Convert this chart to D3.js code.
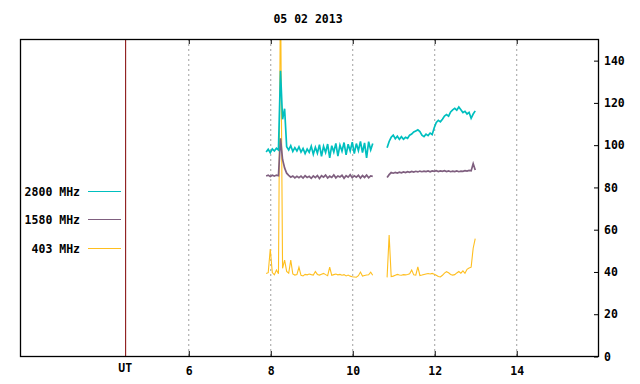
<!DOCTYPE html>
<html>
<head>
<meta charset="utf-8">
<script src="https://cdn.jsdelivr.net/npm/d3@7"></script>
<style>
	body { margin: 0; background: #fff; }
	svg text { font-family: "DejaVu Sans Mono", "Liberation Mono", monospace; font-weight: bold; font-size: 11.5px; fill: #000; }
</style>
</head>
<body>
<svg id="chart" width="640" height="384"></svg>
<script>
// chart title and legend
const title = "05 02 2013";
const seriesNames = ["2800 MHz", "1580 MHz", "403 MHz"];
const seriesColors = ["#00bfbf", "#7f5f7f", "#ffbf1f"];

// axis ticks
const xTicks = [6, 8, 10, 12, 14];
const yTicks = [0, 20, 40, 60, 80, 100, 120, 140];
const utMark = 4.46;

// sample times (UT hours), two observing segments
const timesA = [7.90, 7.95, 8.00, 8.05, 8.10, 8.15, 8.20, 8.25, 8.30, 8.35, 8.40, 8.45, 8.50, 8.55, 8.60, 8.65, 8.70, 8.75, 8.80, 8.85, 8.90, 8.95, 9.00, 9.05, 9.10, 9.15, 9.20, 9.25, 9.30, 9.35, 9.40, 9.45, 9.50, 9.55, 9.60, 9.65, 9.70, 9.75, 9.80, 9.85, 9.90, 9.95, 10.00, 10.05, 10.10, 10.15, 10.20, 10.25, 10.30, 10.35, 10.40, 10.45, 10.50];
const timesB = [10.85, 10.90, 10.95, 11.00, 11.05, 11.10, 11.15, 11.20, 11.25, 11.30, 11.35, 11.40, 11.45, 11.50, 11.55, 11.60, 11.65, 11.70, 11.75, 11.80, 11.85, 11.90, 11.95, 12.00, 12.05, 12.10, 12.15, 12.20, 12.25, 12.30, 12.35, 12.40, 12.45, 12.50, 12.55, 12.60, 12.65, 12.70, 12.75, 12.80, 12.85, 12.90, 12.95, 13.00];

// 2800 MHz
const flux2800A = [96.5, 97.8, 96.2, 98.0, 97.0, 98.3, 97.5, 135, 112, 117, 99, 97.5, 99.5, 96.8, 98.6, 97, 99, 96.5, 98.2, 95.8, 97.9, 96.4, 99.3, 95.5, 98.8, 96, 100, 94.5, 99.2, 96.3, 100.3, 93.8, 99.5, 96.5, 100.6, 94.6, 99.8, 96.9, 101, 95.2, 100.2, 97, 101.2, 95.8, 100.5, 97.2, 101.5, 96.2, 100.8, 93.8, 101.4, 97.5, 100.5];
const flux2800B = [98.5, 101.5, 103.5, 104.5, 102.8, 104, 102.5, 103.8, 102.6, 103.5, 103, 104.5, 105, 106, 106.5, 107, 106.2, 104.5, 103.8, 105, 104.3, 105.5, 104.8, 108, 110.5, 111.5, 110.8, 112, 113.5, 114.2, 113.5, 115.5, 116.5, 117.2, 116.3, 117.8, 116.5, 115.2, 115.8, 114.5, 115.3, 112.5, 114.5, 116];

// 1580 MHz
const flux1580A = [85.2, 85.6, 84.9, 85.5, 85.1, 85.6, 85.3, 103, 93, 89, 86.5, 85.5, 84.6, 85.2, 84.3, 85, 84.4, 85.1, 84.2, 85.3, 84.5, 85, 84.1, 85.2, 84.4, 85.4, 84, 85.3, 84.6, 85.6, 84.2, 85.1, 84.5, 85.7, 84.3, 85.2, 84.7, 85.5, 84.1, 85.3, 84.6, 85.8, 84.4, 85.3, 84.6, 85.5, 84.2, 85.4, 84.5, 85.6, 84.3, 85.2, 85];
const flux1580B = [84.5, 85.8, 86.8, 86.5, 86.9, 86.6, 87, 86.7, 87.1, 86.8, 87.2, 86.9, 87.3, 87, 87.4, 87.1, 87.5, 87.2, 87.5, 87.3, 87.6, 87.2, 87.6, 87.4, 87.7, 87.3, 87.6, 87.4, 87.7, 87.3, 87.6, 87.2, 87.5, 87.3, 87.6, 87.2, 87.5, 87.4, 87.7, 87.5, 87.8, 87.6, 91, 88];

// 403 MHz
const flux403A = [39.0, 39.4, 50.6, 39.5, 38.4, 40.7, 38.9, 175, 41.5, 45.4, 40, 39.2, 45.4, 38.8, 38.3, 38.5, 42, 38.2, 37.9, 38.6, 38.4, 38.8, 38.5, 38.3, 40, 38.6, 38.3, 38.7, 39.1, 38.5, 38, 42, 38.2, 38.5, 38.8, 38.4, 38.6, 38.2, 38.5, 37.9, 38.3, 37.8, 37.5, 37.4, 37.3, 38, 39.7, 37.8, 38.1, 38.3, 38.4, 39.7, 38.2];
const flux403B = [37.2, 57.2, 37.6, 37.8, 38.2, 38.6, 38.3, 38.2, 38.5, 38.4, 38.6, 38.9, 40.7, 38.4, 38.3, 42.2, 38.1, 38.3, 38.6, 38.8, 39, 38.8, 39.1, 38.7, 38.2, 37.6, 37.4, 38.2, 39.2, 39.9, 39.4, 38.6, 38.3, 38.5, 39.3, 40, 39.2, 40.3, 39.1, 41, 41.6, 42, 51, 55.5];

const svg = d3.select('#chart');
const plotLeft = 20, plotRight = 598, plotTop = 39, plotBottom = 356;

const x = d3.scaleLinear().domain([1.895, 15.995]).range([plotLeft, plotRight]);
const y = d3.scaleLinear().domain([0, 150]).range([plotBottom, plotTop]);

svg.append('defs').append('clipPath').attr('id', 'plot')
	.append('rect').attr('x', plotLeft).attr('y', plotTop).attr('width', plotRight - plotLeft).attr('height', plotBottom - plotTop);

// dotted grid
svg.append('g').selectAll('line')
	.data(xTicks)
	.join('line')
	.attr('x1', d => x(d) + 0.5).attr('x2', d => x(d) + 0.5)
	.attr('y1', plotTop).attr('y2', plotBottom)
	.attr('stroke', '#a0a0a0')
	.attr('stroke-dasharray', '2,3');

// UT marker
svg.append('line')
	.attr('x1', x(utMark) + 0.5).attr('x2', x(utMark) + 0.5)
	.attr('y1', plotTop).attr('y2', plotBottom)
	.attr('stroke', '#800000');
svg.append('text')
	.attr('x', x(utMark)).attr('y', 372)
	.attr('text-anchor', 'middle')
	.text('UT');

// series lines
const line = d3.line().x(d => x(d[0])).y(d => y(d[1]));
const series = [
	[flux2800A, flux2800B],
	[flux1580A, flux1580B],
	[flux403A, flux403B]
];
const widths = [1.7, 1.7, 1.1];
const lines = svg.append('g').attr('clip-path', 'url(#plot)');
// draw 403 first so higher-frequency traces sit on top
[2, 1, 0].forEach(i => {
	const [a, b] = series[i];
	[[timesA, a], [timesB, b]].forEach(([ts, vs]) => {
		lines.append('path')
			.datum(ts.map((t, j) => [t, vs[j]]))
			.attr('fill', 'none')
			.attr('stroke', seriesColors[i])
			.attr('stroke-width', widths[i])
			.attr('d', line);
	});
});

// axes
svg.append('g')
	.attr('transform', `translate(0.5,${plotBottom})`)
	.call(d3.axisBottom(x).tickValues(xTicks).tickFormat(d3.format('d')).tickSizeInner(-5).tickSizeOuter(0).tickPadding(11));
svg.append('g')
	.attr('transform', `translate(0.5,${plotTop})`)
	.call(d3.axisTop(x).tickValues(xTicks).tickFormat('').tickSizeInner(-5).tickSizeOuter(0));
svg.append('g')
	.attr('transform', `translate(${plotRight},0.5)`)
	.call(d3.axisRight(y).tickValues(yTicks).tickSizeInner(-4).tickSizeOuter(0).tickPadding(6));
svg.selectAll('.domain').remove();
svg.selectAll('.tick line').attr('stroke', '#000');
svg.selectAll('.tick text').attr('font-family', null).attr('font-size', null);

// frame
svg.append('rect')
	.attr('x', plotLeft + 0.5).attr('y', plotTop + 0.5)
	.attr('width', plotRight - plotLeft).attr('height', plotBottom - plotTop)
	.attr('fill', 'none')
	.attr('stroke', '#000')
	.attr('stroke-width', 1.3);

// title
svg.append('text')
	.attr('x', 308).attr('y', 23)
	.attr('text-anchor', 'middle')
	.text(title);

// legend
const legendY = [191, 219, 248];
const legend = svg.append('g');
seriesNames.forEach((name, i) => {
	legend.append('text')
		.attr('x', 80).attr('y', legendY[i] + 4.5)
		.attr('text-anchor', 'end')
		.text(name);
	legend.append('line')
		.attr('x1', 88).attr('x2', 121)
		.attr('y1', legendY[i] + 0.5).attr('y2', legendY[i] + 0.5)
		.attr('stroke', seriesColors[i]);
});
</script>
</body>
</html>
